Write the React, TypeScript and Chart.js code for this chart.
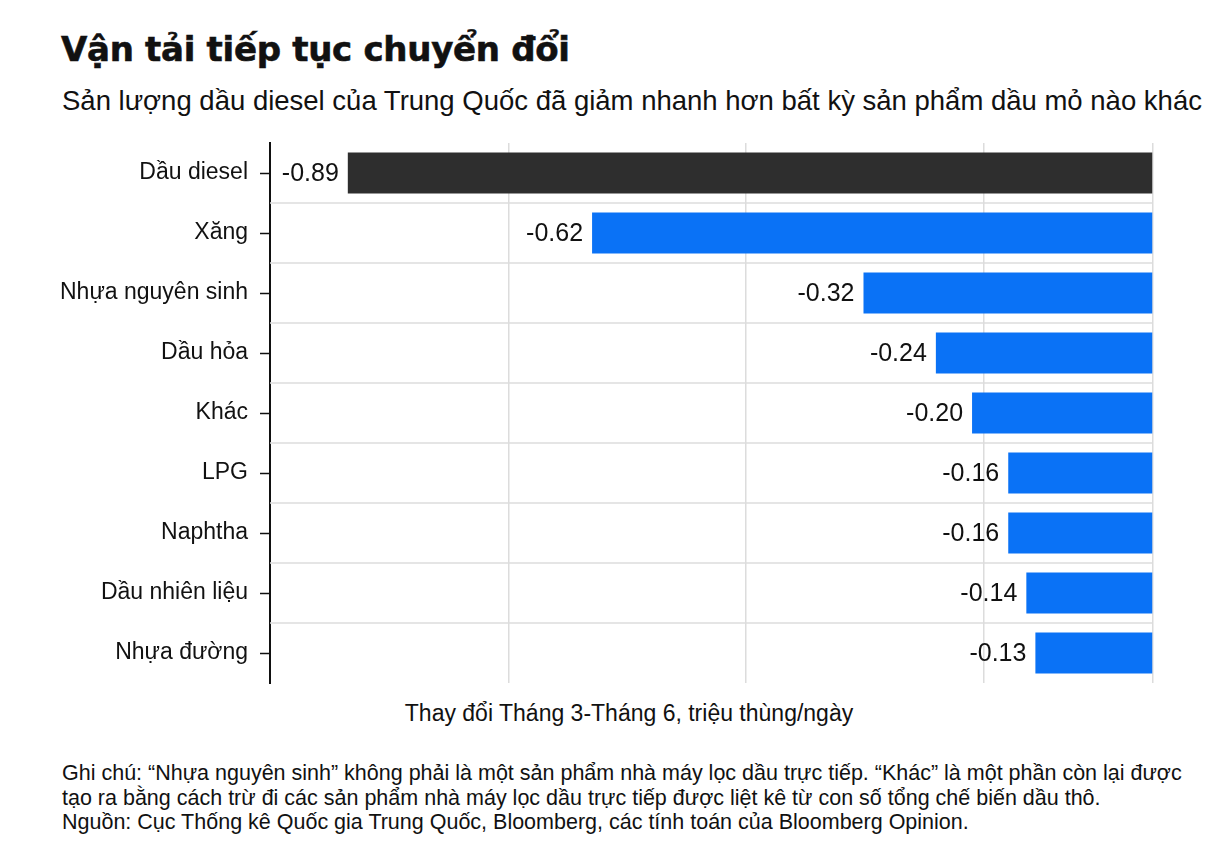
import React, { useEffect, useRef } from "react";
import { Chart, registerables } from "chart.js";

Chart.register(...registerables);

// Products and their change in output, March–June (million barrels/day)
const categories = [
  "Dầu diesel",
  "Xăng",
  "Nhựa nguyên sinh",
  "Dầu hỏa",
  "Khác",
  "LPG",
  "Naphtha",
  "Dầu nhiên liệu",
  "Nhựa đường",
];
const changeValues = [-0.89, -0.62, -0.32, -0.24, -0.2, -0.16, -0.16, -0.14, -0.13];
const valueLabels = ["-0.89", "-0.62", "-0.32", "-0.24", "-0.20", "-0.16", "-0.16", "-0.14", "-0.13"];

// Vertical grid positions on the value axis
const xGridValues = [-0.976, -0.7125, -0.4505, -0.1875, 0];
const X_MIN = -0.976;
const X_MAX = 0;

const FONT = "'Liberation Sans', Arial, Helvetica, sans-serif";
const TITLE_FONT = "'DejaVu Sans', 'Liberation Sans', Arial, sans-serif";
const INK = "#111111";
const DIESEL_COLOR = "#2e2e2e";
const BAR_COLOR = "#0a72f6";
const GRID_COLOR = "#dcdcdc";

// Horizontal separators between category rows
const rowLinesPlugin = {
  id: "rowLines",
  beforeDatasetsDraw(chart: any) {
    const { ctx, chartArea, scales } = chart;
    const y = scales.y;
    ctx.save();
    ctx.strokeStyle = GRID_COLOR;
    ctx.lineWidth = 1.5;
    for (let i = 0; i < categories.length - 1; i++) {
      const py = (y.getPixelForValue(i) + y.getPixelForValue(i + 1)) / 2;
      ctx.beginPath();
      ctx.moveTo(chartArea.left, py);
      ctx.lineTo(chartArea.right, py);
      ctx.stroke();
    }
    ctx.restore();
  },
};

// Value text to the left of each bar's end
const valueTextPlugin = {
  id: "valueText",
  afterDatasetsDraw(chart: any) {
    const { ctx } = chart;
    const meta = chart.getDatasetMeta(0);
    ctx.save();
    ctx.font = `25px ${FONT}`;
    ctx.fillStyle = INK;
    ctx.textAlign = "right";
    ctx.textBaseline = "middle";
    meta.data.forEach((bar: any, i: number) => {
      ctx.fillText(valueLabels[i], bar.x - 9, bar.y + 1);
    });
    ctx.restore();
  },
};

function BarChart() {
  const ref = useRef<HTMLCanvasElement | null>(null);

  useEffect(() => {
    if (!ref.current) return;
    const chart = new Chart(ref.current, {
      type: "bar",
      data: {
        labels: categories,
        datasets: [
          {
            data: changeValues,
            backgroundColor: changeValues.map((_, i) => (i === 0 ? DIESEL_COLOR : BAR_COLOR)),
            borderWidth: 0,
            categoryPercentage: 1,
            barPercentage: 0.68,
          },
        ],
      },
      options: {
        indexAxis: "y",
        animation: false,
        responsive: false,
        maintainAspectRatio: false,
        events: [],
        layout: { padding: { top: 13, bottom: 17, left: 0, right: 78 } },
        plugins: {
          legend: { display: false },
          tooltip: { enabled: false },
        },
        scales: {
          x: {
            type: "linear",
            min: X_MIN,
            max: X_MAX,
            afterBuildTicks: (scale: any) => {
              scale.ticks = xGridValues.map((v) => ({ value: v }));
            },
            afterFit: (scale: any) => {
              scale.height = 0;
              scale.paddingLeft = 0;
              scale.paddingRight = 0;
            },
            ticks: { display: false },
            grid: { color: GRID_COLOR, lineWidth: 1.5, drawTicks: false },
            border: { display: false },
          },
          y: {
            type: "category",
            offset: true,
            afterFit: (scale: any) => {
              scale.width = 270;
              scale.paddingTop = 0;
              scale.paddingBottom = 0;
            },
            grid: {
              offset: false,
              drawOnChartArea: false,
              drawTicks: true,
              tickLength: 10,
              tickColor: INK,
              tickWidth: 1.5,
            },
            border: { display: true, color: INK, width: 2 },
            ticks: {
              padding: 12,
              color: INK,
              font: { family: FONT, size: 23 },
            },
          },
        },
      },
      plugins: [rowLinesPlugin, valueTextPlugin],
    } as any);
    return () => chart.destroy();
  }, []);

  return (
    <canvas
      ref={ref}
      width={1231}
      height={570}
      style={{ position: "absolute", left: 0, top: 130, width: 1231, height: 570 }}
    />
  );
}

export default function App() {
  const text: React.CSSProperties = { position: "absolute", margin: 0, color: INK, fontFamily: FONT, whiteSpace: "nowrap" };
  return (
    <div style={{ position: "absolute", left: 0, top: 0, width: 1231, height: 864, background: "#ffffff", overflow: "hidden" }}>
      <div
        style={{
          ...text,
          left: 61,
          top: 30,
          fontFamily: TITLE_FONT,
          fontSize: 34,
          fontWeight: 700,
          lineHeight: 1.15,
          letterSpacing: -0.3,
          WebkitTextStroke: "0.6px #111111",
        }}
      >
        Vận tải tiếp tục chuyển đổi
      </div>
      <div style={{ ...text, left: 62, top: 85, fontSize: 27.5, lineHeight: 1.15 }}>
        Sản lượng dầu diesel của Trung Quốc đã giảm nhanh hơn bất kỳ sản phẩm dầu mỏ nào khác
      </div>
      <BarChart />
      <div style={{ ...text, left: 629, top: 700, fontSize: 23, lineHeight: 1.15, transform: "translateX(-50%)" }}>
        Thay đổi Tháng 3-Tháng 6, triệu thùng/ngày
      </div>
      <div style={{ ...text, left: 62, top: 761, fontSize: 21.5, lineHeight: "24.5px" }}>
        <div>Ghi chú: “Nhựa nguyên sinh” không phải là một sản phẩm nhà máy lọc dầu trực tiếp. “Khác” là một phần còn lại được</div>
        <div>tạo ra bằng cách trừ đi các sản phẩm nhà máy lọc dầu trực tiếp được liệt kê từ con số tổng chế biến dầu thô.</div>
        <div>Nguồn: Cục Thống kê Quốc gia Trung Quốc, Bloomberg, các tính toán của Bloomberg Opinion.</div>
      </div>
    </div>
  );
}
